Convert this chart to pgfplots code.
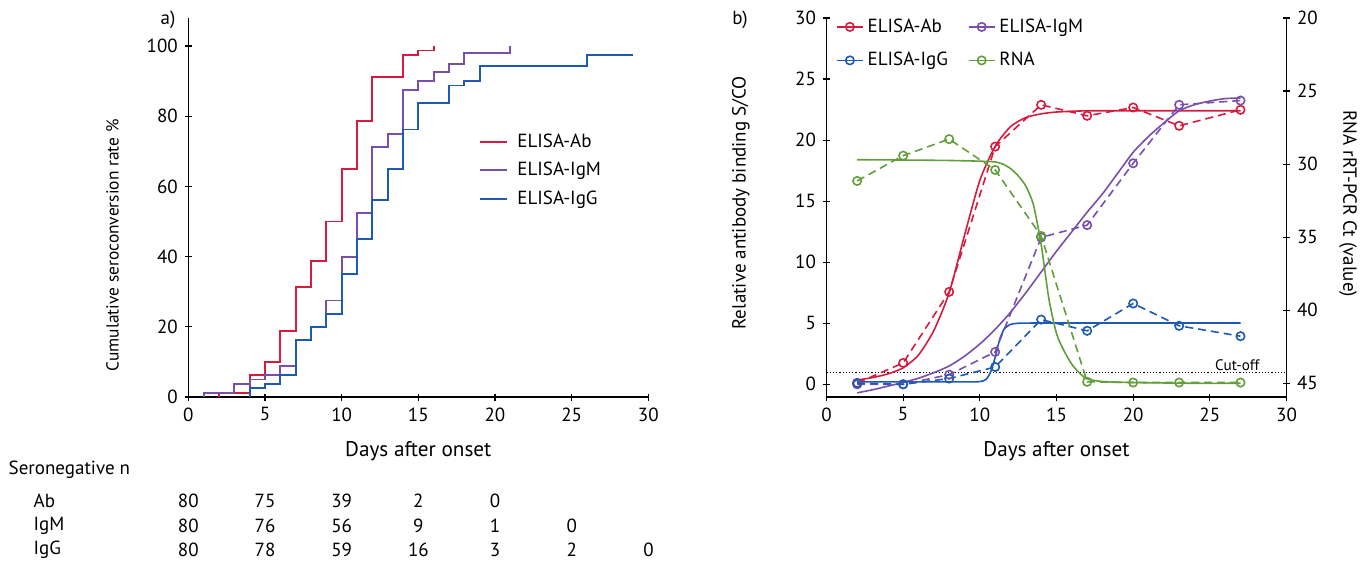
\documentclass[border=0pt]{standalone}
\usepackage{fontspec}
\setmainfont{PT Sans}
\usepackage{pgfplots}
\pgfplotsset{compat=1.18}

\definecolor{cab}{RGB}{214,28,62}
\definecolor{cigm}{RGB}{122,78,171}
\definecolor{cigg}{RGB}{30,90,180}
\definecolor{crna}{RGB}{98,158,58}

\pgfplotsset{
  panel/.style={
    scale only axis, width=230pt, height=189.5pt,
    xmin=0, xmax=30,
    every outer x axis line/.append style={-},
    every outer y axis line/.append style={-},
    every inner x axis line/.append style={-},
    every inner y axis line/.append style={-},
    tick align=outside, major tick length=3.5pt,
    tick style={line width=0.6pt, black},
    tick label style={font=\fontsize{9.5}{11}\selectfont},
    label style={font=\fontsize{9.5}{11}\selectfont},
    /pgf/number format/assume math mode=true,
    xtick={0,5,...,30},
  },
  fitline/.style={line width=0.8pt, smooth, tension=0.4, no marks, forget plot},
  obsline/.style={line width=0.8pt, dash pattern=on 4pt off 2.5pt,
    mark=o, mark size=2.1pt, mark options={solid}, forget plot},
}

\begin{document}
\begin{tikzpicture}[font=\fontsize{9.5}{11}\selectfont]
\useasboundingbox (0,0) rectangle (686pt,-281pt);

% ---------------- panel a ----------------
\begin{axis}[panel,
  at={(94.15pt,-198.5pt)}, anchor=south west,
  ymin=0, ymax=108,
  axis x line=bottom, axis y line=left,
  axis line style={-, line width=0.6pt},
  ytick={0,20,...,100},
  xlabel={Days after onset},
  ylabel={Cumulative seroconversion rate \%},
  xlabel style={at={(axis description cs:0.5,-0.142)}, anchor=center,
    font=\fontsize{10.6}{12}\selectfont},
  ylabel style={at={(axis description cs:-0.165,0.40)}, anchor=center,
    font=\fontsize{8.7}{10}\selectfont},
  legend style={at={(axis description cs:0.632,0.706)}, anchor=north west,
    draw=none, fill=none, inner sep=0pt, row sep=1.9pt,
    nodes={inner xsep=4.5pt},
    font=\fontsize{9.5}{11}\selectfont},
  legend cell align=left,
  legend image code/.code={\draw[#1, line width=1pt] (0pt,0pt) -- (13.5pt,0pt);},
  clip=false,
]
\addplot[const plot, cab, line width=0.9pt] coordinates {
  (2,0) (2,1.25) (4,6.25) (5,10) (6,18.75) (7,31.25) (8,38.75) (9,50)
  (10,65) (11,78.75) (12,91.25) (14,97.5) (15,98.75) (16,100)};
\addlegendentry{ELISA-Ab}
\addplot[const plot, cigm, line width=0.9pt] coordinates {
  (1,0) (1,1.25) (3,3.75) (4,5) (5,6.25) (6,8.75) (7,16.25) (8,20) (9,27.5)
  (10,40) (11,52.5) (12,71.25) (13,75) (14,87.5) (15,90) (16,92.5) (17,95)
  (18,98) (21,100)};
\addlegendentry{ELISA-IgM}
\addplot[const plot, cigg, line width=0.9pt] coordinates {
  (4,0) (4,2.5) (5,3.75) (6,6.25) (7,16.25) (8,20) (9,23.75) (10,35) (11,45)
  (12,56.25) (13,65) (14,76.25) (15,83.75) (17,88.75) (18,90) (19,94.4)
  (26,97.5) (29,97.5)};
\addlegendentry{ELISA-IgG}
\end{axis}

% seronegative table
\node[anchor=west] at (0.8pt,-235pt) {Seronegative n};
\node[anchor=west] at (13.3pt,-250.5pt) {Ab};
\node[anchor=west] at (13.3pt,-262.7pt) {IgM};
\node[anchor=west] at (13.3pt,-275pt) {IgG};
\foreach \v [count=\i from 0] in {80,75,39,2,0}
  \node at (94.15pt+\i*38.35pt,-250.5pt) {\v};
\foreach \v [count=\i from 0] in {80,76,56,9,1,0}
  \node at (94.15pt+\i*38.35pt,-262.7pt) {\v};
\foreach \v [count=\i from 0] in {80,78,59,16,3,2,0}
  \node at (94.15pt+\i*38.35pt,-275pt) {\v};

\node at (84pt,-10pt) {a)};
\node at (370pt,-10pt) {b)};

% ---------------- panel b ----------------
\begin{axis}[panel,
  at={(413.25pt,-198.5pt)}, anchor=south west,
  ymin=-1.04, ymax=30,
  axis x line=bottom, axis y line=left,
  axis line style={-, line width=0.6pt},
  ytick={0,5,...,30},
  xlabel={Days after onset},
  ylabel={Relative antibody binding S/CO},
  xlabel style={at={(axis description cs:0.5,-0.142)}, anchor=center,
    font=\fontsize{10.6}{12}\selectfont},
  ylabel style={at={(axis description cs:-0.186,0.512)}, anchor=center},
  legend columns=2,
  legend style={at={(axis description cs:0.02,1.01)}, anchor=north west,
    draw=none, fill=none, inner sep=0pt, row sep=4.5pt,
    /tikz/every even column/.append style={column sep=8pt},
    font=\fontsize{9.5}{11}\selectfont},
  legend cell align=left,
  legend image code/.code={\draw[#1, mark repeat=2, mark phase=2]
    plot coordinates {(0pt,0pt) (6.5pt,0pt) (13pt,0pt)};},
  clip=false,
]
\addlegendimage{cab, line width=0.8pt, mark=o, mark size=2.1pt}
\addlegendentry{ELISA-Ab}
\addlegendimage{cigm, line width=0.8pt, mark=o, mark size=2.1pt}
\addlegendentry{ELISA-IgM}
\addlegendimage{cigg, line width=0.8pt, mark=o, mark size=2.1pt}
\addlegendentry{ELISA-IgG}
\addlegendimage{crna, line width=0.8pt, mark=o, mark size=2.1pt}
\addlegendentry{RNA}

% cut-off
\addplot[black, line width=0.6pt, densely dotted, forget plot] coordinates {(0,0.96) (30,0.96)};
\node[anchor=south east, inner sep=1pt, font=\fontsize{7.6}{8}\selectfont] at (axis cs:28.4,0.96) {Cut-off};

% fitted curves
\addplot[fitline, cab] coordinates {
  (2,0.35) (3,0.55) (4,0.85) (5,1.35) (6,2.4) (7,4.4) (8,7.5) (9,12.2)
  (10,16.7) (11,19.5) (12,21.1) (13,21.85) (14,22.15) (15,22.3) (17,22.4)
  (20,22.4) (24,22.4) (27,22.4)};
\addplot[fitline, cigm] coordinates {
  (2,-0.7) (3,-0.45) (4,-0.15) (5,0.15) (6,0.5) (7,0.95) (8,1.5) (9,2.3)
  (10,3.3) (11,4.5) (12,5.9) (13,7.5) (14,9.2) (15,10.9) (16,12.5) (17,14.1)
  (18,15.6) (19,17.3) (20,19.0) (21,20.3) (22,21.4) (23,22.4) (24,22.9)
  (25,23.2) (26,23.4) (27,23.45)};
\addplot[fitline, cigg] coordinates {
  (2,0.2) (6,0.2) (9,0.2) (10,0.22) (10.4,0.4) (10.7,1.0) (11,2.2) (11.3,3.7)
  (11.6,4.55) (12,4.9) (12.5,5.0) (14,5.02) (20,5.02) (27,5.02)};

% observed values
\addplot[obsline, cab] coordinates {
  (2,0.1) (5,1.75) (8,7.57) (11,19.47) (14,22.89) (17,21.99) (20,22.67)
  (23,21.17) (27,22.48)};
\addplot[obsline, cigm] coordinates {
  (2,0.0) (5,0.0) (8,0.79) (11,2.65) (14,12.03) (17,13.04) (20,18.1)
  (23,22.89) (27,23.24)};
\addplot[obsline, cigg] coordinates {
  (2,0.11) (5,0.0) (8,0.47) (11,1.42) (14,5.3) (17,4.38) (20,6.62)
  (23,4.79) (27,3.94)};
\end{axis}

\begin{axis}[panel,
  at={(413.25pt,-198.5pt)}, anchor=south west,
  ymin=20, ymax=45.94, y dir=reverse,
  axis x line=none, axis y line=right,
  axis line style={-, line width=0.6pt},
  ytick={20,25,...,45},
  ylabel={RNA rRT-PCR Ct (value)},
  ylabel style={at={(axis description cs:1.134,0.51)}, anchor=center, rotate=180},
  clip=false,
]
\addplot[fitline, crna] coordinates {
  (2,29.7) (5,29.72) (8,29.75) (10,29.8) (11,29.85) (11.5,30.0) (12,30.3)
  (12.5,30.8) (13,31.5) (13.5,32.8) (14,35.5) (14.5,39.2) (15,41.6)
  (15.5,42.8) (16,43.7) (16.5,44.3) (17,44.7) (18,44.88) (20,44.95)
  (24,45.0) (27,45.0)};
\addplot[obsline, crna] coordinates {
  (2,31.15) (5,29.42) (8,28.29) (11,30.4) (14,34.92) (17,44.9) (20,44.95)
  (23,44.95) (27,44.95)};
\end{axis}
\end{tikzpicture}
\end{document}
